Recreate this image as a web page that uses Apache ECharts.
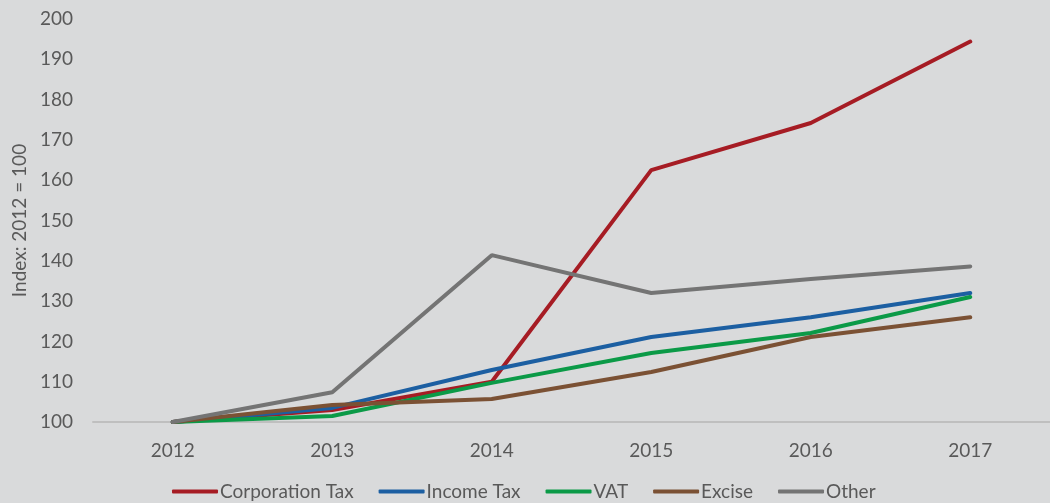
<!DOCTYPE html>
<html>
<head>
<meta charset="utf-8">
<script src="https://cdn.jsdelivr.net/npm/echarts@6/dist/echarts.min.js"></script>
<style>
  html, body { margin: 0; padding: 0; background: #d9dadb; }
  #chart { width: 1050px; height: 503px; }
</style>
</head>
<body>
<div id="chart"></div>
<script>
  const years = ['2012', '2013', '2014', '2015', '2016', '2017'];
  const corporationTax = [100, 103, 110, 162.5, 174.2, 194.4];
  const incomeTax = [100, 103.5, 112.9, 121.1, 126, 132];
  const vat = [100, 101.5, 109.7, 117.1, 122.1, 131];
  const excise = [100, 104.2, 105.7, 112.4, 121.1, 126];
  const other = [100, 107.4, 141.4, 132, 135.5, 138.6];

  const textColor = '#595959';
  const font = 'Lato, "Open Sans", sans-serif';

  function lineSeries(name, data, color) {
    return {
      name: name,
      type: 'line',
      data: data,
      symbol: 'none',
      lineStyle: { color: color, width: 4, cap: 'round' },
      itemStyle: { color: color },
    };
  }

  const chart = echarts.init(document.getElementById('chart'));
  chart.setOption({
    backgroundColor: '#d9dadb',
    animation: false,
    textStyle: { fontFamily: font },
    grid: { left: 93, top: 19, bottom: 81, width: 978 },
    legend: {
      bottom: -3,
      left: 167,
      icon: 'roundRect',
      itemWidth: 46,
      itemHeight: 4,
      itemGap: 25,
      textStyle: { color: textColor, fontSize: 19, fontFamily: font, padding: [0, 0, 0, -3] },
      data: ['Corporation Tax', 'Income Tax', 'VAT', 'Excise', 'Other'],
    },
    xAxis: {
      type: 'category',
      data: years,
      boundaryGap: true,
      axisLine: { lineStyle: { color: '#bfbfbf', width: 2 } },
      axisTick: { show: false },
      axisLabel: { color: textColor, fontSize: 19, margin: 19 },
    },
    yAxis: {
      type: 'value',
      min: 100,
      max: 200,
      interval: 10,
      name: 'Index: 2012 = 100',
      nameLocation: 'middle',
      nameGap: 57,
      nameTextStyle: { color: textColor, fontSize: 19, fontFamily: font },
      axisLine: { show: false },
      axisTick: { show: false },
      splitLine: { show: false },
      axisLabel: { color: textColor, fontSize: 19, margin: 20 },
    },
    series: [
      lineSeries('Corporation Tax', corporationTax, '#a61c24'),
      lineSeries('Income Tax', incomeTax, '#1c5fa2'),
      lineSeries('VAT', vat, '#0b9a47'),
      lineSeries('Excise', excise, '#7b5134'),
      lineSeries('Other', other, '#747474'),
    ],
  });
</script>
</body>
</html>
